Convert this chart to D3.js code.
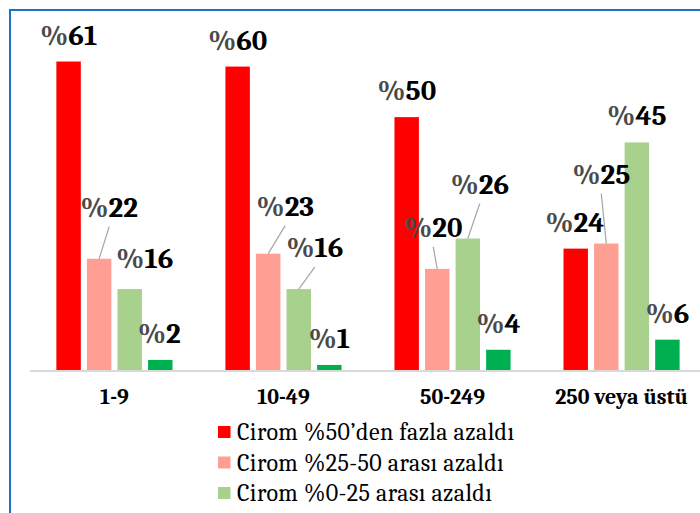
<!DOCTYPE html>
<html>
<head>
<meta charset="utf-8">
<script src="https://cdn.jsdelivr.net/npm/d3@7"></script>
<style>
  body { margin: 0; background: #fff; }
  svg { display: block; }
</style>
</head>
<body>
<div id="chart-area"></div>
<script>
// categories (firm size) and the four turnover series
const categories = ['1-9', '10-49', '50-249', '250 veya üstü'];
const seriesNames = [
  'Cirom %50’den fazla azaldı',
  'Cirom %25-50 arası azaldı',
  'Cirom %0-25 arası azaldı',
  'Cirom arttı'
];
const over50 = [61, 60, 50, 24];
const from25to50 = [22, 23, 20, 25];
const from0to25 = [16, 16, 26, 45];
const increased = [2, 1, 4, 6];

const colors = ['#ff0000', '#ff9f94', '#a9d18e', '#00b050'];
const FONT = 'Caladea, serif';

// manual label nudges (like dragged labels in the original), [dx, dy] per series per category
const labelNudge = [
  [[0, 0], [0, 0], [0, 0], [-1, 0]],
  [[10, -25], [17, -21], [-4, -15], [-5, -43]],
  [[15, -4], [16, -15], [12, -28], [0, 0]],
  [[-1, 0], [0, 0], [0, 0], [0, 0]]
];

const W = 700, H = 513;
const margin = { top: 16, right: -6, bottom: 143, left: 30 };
const width = W - margin.left - margin.right;
const height = H - margin.top - margin.bottom;

const svg = d3.select('#chart-area').append('svg')
  .attr('width', W)
  .attr('height', H);

// frame (only top and left edges are in view)
svg.append('path')
  .attr('d', `M10,${H} L10,10 L${W},10`)
  .attr('fill', 'none')
  .attr('stroke', '#1a73c4')
  .attr('stroke-width', 2);

const g = svg.append('g')
  .attr('transform', `translate(${margin.left}, ${margin.top})`);

const series = [over50, from25to50, from0to25, increased];
const data = categories.map((c, i) => ({
  cat: c,
  values: series.map((s, k) => ({ k: k, v: s[i], i: i }))
}));

const x0 = d3.scaleBand()
  .domain(categories)
  .range([0, width])
  .paddingInner(0.313)
  .paddingOuter(0.156);

const x1 = d3.scaleBand()
  .domain(d3.range(series.length))
  .range([0, x0.bandwidth()])
  .paddingInner(0.2);

const y = d3.scaleLinear()
  .domain([0, 70])
  .range([height, 0]);

// bars
const groups = g.selectAll('.grp')
  .data(data)
  .enter().append('g')
  .attr('class', 'grp')
  .attr('transform', d => `translate(${x0(d.cat)}, 0)`);

groups.selectAll('rect')
  .data(d => d.values)
  .enter().append('rect')
  .attr('x', d => x1(d.k))
  .attr('y', d => y(d.v))
  .attr('width', x1.bandwidth())
  .attr('height', d => height - y(d.v))
  .attr('fill', d => colors[d.k]);

// baseline
g.append('line')
  .attr('x1', 0)
  .attr('x2', width)
  .attr('y1', height + 1)
  .attr('y2', height + 1)
  .attr('stroke', '#d9d9d9')
  .attr('stroke-width', 2);

// x axis labels
const xAxis = d3.axisBottom(x0).tickSize(0).tickPadding(0);
const xAxisGroup = g.append('g')
  .attr('transform', `translate(0, ${height})`)
  .call(xAxis);
xAxisGroup.select('.domain').remove();
xAxisGroup.selectAll('text')
  .attr('y', 34)
  .attr('dy', 0)
  .attr('fill', '#000')
  .style('font-family', FONT)
  .style('font-weight', 'bold')
  .style('font-size', '22px');

// data labels with leader lines
groups.each(function(d) {
  const grp = d3.select(this);
  d.values.forEach(p => {
    const nudge = labelNudge[p.k][p.i];
    const cx = x1(p.k) + x1.bandwidth() / 2;
    const top = y(p.v);
    const lx = cx + nudge[0];
    const ly = top - 17 + nudge[1];
    if (Math.abs(nudge[1]) > 10) {
      grp.append('line')
        .attr('x1', lx)
        .attr('y1', ly + 10)
        .attr('x2', cx)
        .attr('y2', top)
        .attr('stroke', '#a6a6a6')
        .attr('stroke-width', 1.2);
    }
    const t = grp.append('text')
      .attr('x', lx)
      .attr('y', ly)
      .attr('text-anchor', 'middle')
      .style('font-family', FONT)
      .style('font-weight', 'bold')
      .style('font-size', '29px');
    t.append('tspan').attr('fill', '#4a4a4a').text('%');
    t.append('tspan').attr('fill', '#000').text(p.v);
  });
});

// legend (first three series only)
const legend = svg.append('g')
  .attr('transform', 'translate(218, 426)');

const items = legend.selectAll('g')
  .data(seriesNames.slice(0, 3))
  .enter().append('g')
  .attr('transform', (d, i) => `translate(0, ${i * 30.5})`);

items.append('rect')
  .attr('width', 12.5)
  .attr('height', 12)
  .attr('fill', (d, i) => colors[i]);

items.append('text')
  .attr('x', 19)
  .attr('y', 14)
  .attr('fill', '#000')
  .style('font-family', FONT)
  .style('font-size', '24px')
  .style('letter-spacing', '0.4px')
  .text(d => d);
</script>
</body>
</html>
